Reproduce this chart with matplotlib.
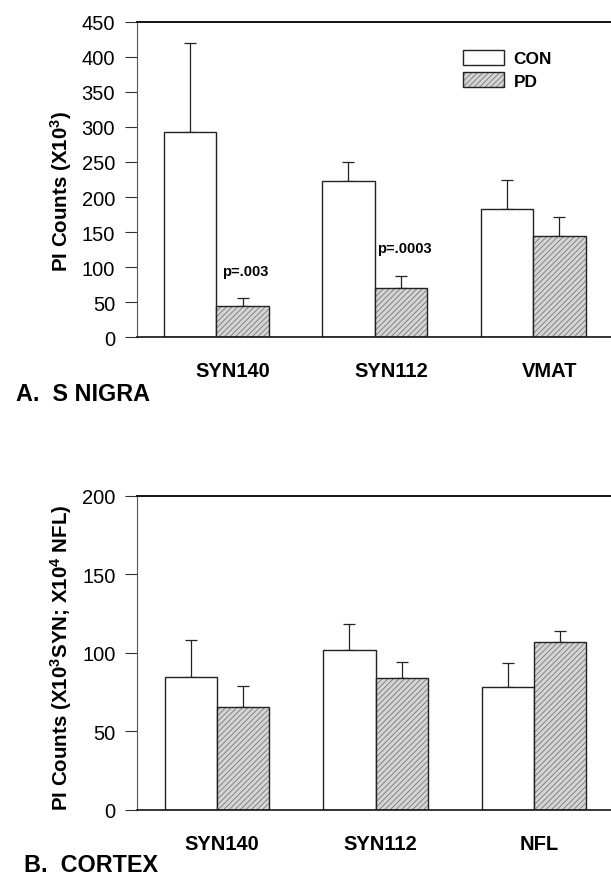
import matplotlib
matplotlib.use('Agg')
import numpy as np
import matplotlib.pyplot as plt
import matplotlib.patches as mpatches

plt.rcParams['font.family'] = ['Liberation Sans', 'DejaVu Sans']
plt.rcParams['mathtext.fontset'] = 'custom'
plt.rcParams['mathtext.rm'] = 'Liberation Sans:bold'
plt.rcParams['mathtext.bf'] = 'Liberation Sans:bold'
plt.rcParams['mathtext.default'] = 'rm'
plt.rcParams['hatch.color'] = '#666666'
plt.rcParams['hatch.linewidth'] = 0.5

# panel A: substantia nigra
groups_a = ['SYN140', 'SYN112', 'VMAT']
con_a = [293, 223, 183]
con_a_err = [126, 27, 41]
pd_a = [45, 70, 144]
pd_a_err = [11, 18, 27]
pvals_a = ['p=.003', 'p=.0003', '']
pval_y_a = [95, 127, 0]

# panel B: cortex
groups_b = ['SYN140', 'SYN112', 'NFL']
con_b = [84.4, 101.6, 78]
con_b_err = [24, 16.5, 15.5]
pd_b = [65.7, 83.8, 106.7]
pd_b_err = [13.4, 10.2, 7]

W = 0.331
HATCH = '//////'
PD_FACE = '#d4d4d4'


def draw_panel(ax, groups, con, con_err, pd, pd_err, ymax, label_shift):
    x = np.arange(len(groups))
    xc = x - W / 2
    xp = x + W / 2
    ax.bar(xc, con, W, color='white', edgecolor='#222222', linewidth=1.0, zorder=2)
    # hatch first, outline on top so the hatch keeps its own grey
    ax.bar(xp, pd, W, color=PD_FACE, hatch=HATCH, linewidth=0, zorder=2)
    ax.bar(xp, pd, W, fill=False, edgecolor='#222222', linewidth=1.0, zorder=3)
    ax.errorbar(xc, con, yerr=[np.zeros(len(con)), con_err], fmt='none',
                ecolor='#222222', elinewidth=0.9, capsize=4, capthick=0.9, zorder=1)
    ax.errorbar(xp, pd, yerr=[np.zeros(len(pd)), pd_err], fmt='none',
                ecolor='#222222', elinewidth=0.9, capsize=4, capthick=0.9, zorder=1)

    ax.set_ylim(0, ymax)
    ax.set_xticks(x + label_shift)
    ax.set_xticklabels(groups, fontsize=14.5, fontweight='bold')
    ax.tick_params(axis='x', length=0, pad=17)
    ax.tick_params(axis='y', direction='out', length=8.4, width=0.8,
                   labelsize=14.5, pad=7, color='#333333')
    ax.spines['right'].set_visible(False)
    ax.spines['top'].set_linewidth(1.3)
    ax.spines['bottom'].set_linewidth(1.1)
    ax.spines['left'].set_color('#555555')
    ax.spines['left'].set_linewidth(0.8)
    return xp


fig = plt.figure(figsize=(6.11, 8.78), dpi=100)

ax1 = fig.add_axes([136.5 / 611, (878 - 338.3) / 878, (611 - 136.5) / 611, (338.3 - 22.7) / 878])
xp = draw_panel(ax1, groups_a, con_a, con_a_err, pd_a, pd_a_err, 450, 0.105)
ax1.set_xlim(-0.504, 2.492)
ax1.set_yticks(np.arange(0, 451, 50))
ax1.set_ylabel('PI Counts (X10$^3$)', fontsize=14.8, fontweight='bold')
ax1.yaxis.set_label_coords(-0.132, 0.464)
for xi, txt, yy in zip(xp, pvals_a, pval_y_a):
    if txt:
        ax1.text(xi + 0.02, yy, txt, ha='center', va='center', fontsize=10.5, fontweight='bold')

con_handle = mpatches.Patch(facecolor='white', edgecolor='#222222', linewidth=1.0)
pd_fill = mpatches.Patch(facecolor=PD_FACE, hatch=HATCH, linewidth=0)
pd_edge = mpatches.Patch(fill=False, edgecolor='#222222', linewidth=1.0)
ax1.legend([con_handle, (pd_fill, pd_edge)], ['CON', 'PD'], loc='upper left',
           bbox_to_anchor=(462.7 / 611, 1 - 51 / 878), bbox_transform=fig.transFigure,
           frameon=False, borderpad=0, borderaxespad=0, handlelength=2.4,
           handleheight=0.95, handletextpad=0.55, labelspacing=0.35,
           prop={'weight': 'bold', 'size': 12.4})

ax2 = fig.add_axes([137 / 611, (878 - 811) / 878, (611 - 137) / 611, (811 - 496.7) / 878])
draw_panel(ax2, groups_b, con_b, con_b_err, pd_b, pd_b_err, 200, 0.03)
ax2.set_xlim(-0.505, 2.486)
ax2.set_yticks(np.arange(0, 201, 50))
ax2.set_ylabel('PI Counts (X10$^3$SYN; X10$^4$ NFL)', fontsize=14.8, fontweight='bold')
ax2.yaxis.set_label_coords(-0.132, 0.487)

fig.text(16 / 611, 1 - 401.5 / 878, 'A.  S NIGRA', ha='left', va='baseline', fontsize=16.8, fontweight='bold')
fig.text(24 / 611, 1 - 872.5 / 878, 'B.  CORTEX', ha='left', va='baseline', fontsize=16.8, fontweight='bold')

fig.savefig('out.png', dpi=100)
plt.close('all')
